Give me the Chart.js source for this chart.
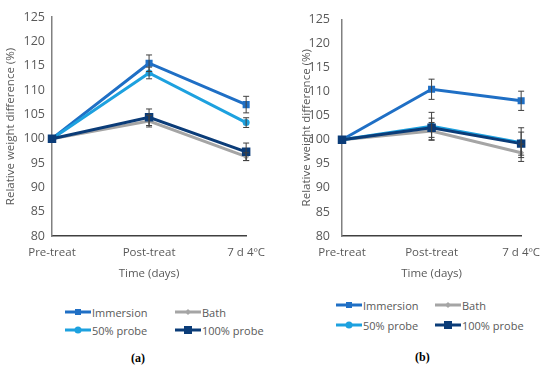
<!DOCTYPE html>
<html>
<head>
<meta charset="utf-8">
<script src="https://cdn.jsdelivr.net/npm/chart.js@4.4.1/dist/chart.umd.min.js"></script>
<style>
  html, body { margin: 0; padding: 0; background: #ffffff; }
  body { width: 550px; height: 367px; position: relative; overflow: hidden; font-family: "Open Sans", sans-serif; }
  .wrap { position: absolute; top: 0; width: 275px; height: 285px; }
  .legend { position: absolute; font-size: 11px; color: #595959; }
  .item { position: absolute; display: flex; align-items: center; white-space: nowrap; height: 16px; }
  .item svg { margin-right: 1px; }
  .cap { position: absolute; font-family: "Liberation Serif", serif; font-weight: bold; font-size: 12px; color: #000; }
</style>
</head>
<body>
<div class="wrap" style="left:0px"><canvas id="ca" width="275" height="285"></canvas></div>
<div class="wrap" style="left:275px"><canvas id="cb" width="275" height="285"></canvas></div>
<div id="legA"></div>
<div id="legB"></div>
<div class="cap" style="left:131px; top:351px;">(a)</div>
<div class="cap" style="left:415px; top:350px;">(b)</div>
<script>
// ---- data ----
const categories = ['Pre-treat', 'Post-treat', '7 d 4ºC'];
const seriesNames = ['Immersion', 'Bath', '50% probe', '100% probe'];
const yTicks = [80, 85, 90, 95, 100, 105, 110, 115, 120, 125];

// panel (a)
const aImmersion = [100, 115.5, 107.0];
const aBath      = [100, 103.6, 96.3];
const aProbe50   = [100, 113.5, 103.3];
const aProbe100  = [100, 104.4, 97.3];
const aErrImmersion = [0, 1.7, 1.7];
const aErrBath      = [0, 1.2, 0.8];
const aErrProbe50   = [0, 1.2, 1.0];
const aErrProbe100  = [0, 1.7, 1.8];

// panel (b)
const bImmersion = [100, 110.5, 108.1];
const bBath      = [100, 101.8, 97.3];
const bProbe50   = [100, 102.8, 99.4];
const bProbe100  = [100, 102.5, 99.2];
const bErrImmersion = [0, 2.1, 2.0];
const bErrBath      = [0, 1.8, 1.8];
const bErrProbe50   = [0, 2.9, 3.1];
const bErrProbe100  = [0, 2.0, 2.4];

// ---- styles ----
const colors = ['#1F6FC5', '#A5A5A5', '#1DA1DF', '#0B3C78'];
const pStyles = ['rect', 'rectRot', 'circle', 'rect'];
const pRadius = [5, 3, 3.5, 6];
const drawOrder = [3, 2, 1, 0];

const errorBars = {
  id: 'errorBars',
  afterDatasetsDraw(chart) {
    const ctx = chart.ctx;
    const y = chart.scales.y;
    ctx.save();
    ctx.strokeStyle = '#404040';
    ctx.lineWidth = 1;
    chart.data.datasets.forEach((ds, i) => {
      const meta = chart.getDatasetMeta(i);
      ds.errors.forEach((e, j) => {
        if (!e) return;
        const px = meta.data[j].x;
        const top = y.getPixelForValue(ds.data[j] + e);
        const bot = y.getPixelForValue(ds.data[j] - e);
        ctx.beginPath();
        ctx.moveTo(px, top); ctx.lineTo(px, bot);
        ctx.moveTo(px - 3, top); ctx.lineTo(px + 3, top);
        ctx.moveTo(px - 3, bot); ctx.lineTo(px + 3, bot);
        ctx.stroke();
      });
    });
    ctx.restore();
  }
};

function makeChart(id, series, errors, axisW, padLeft, padRight, tickPad) {
  const datasets = series.map((d, i) => ({
    label: seriesNames[i],
    data: d,
    errors: errors[i],
    borderColor: colors[i],
    backgroundColor: colors[i],
    borderWidth: 3,
    pointStyle: pStyles[i],
    pointRadius: pRadius[i],
    pointBorderWidth: 0,
    order: drawOrder[i],
    tension: 0
  }));
  return new Chart(document.getElementById(id), {
    type: 'line',
    data: { labels: categories, datasets },
    plugins: [errorBars],
    options: {
      responsive: false,
      animation: false,
      devicePixelRatio: 1,
      layout: { padding: { top: 17, right: padRight, left: padLeft, bottom: 1 } },
      plugins: { legend: { display: false }, tooltip: { enabled: false } },
      scales: {
        x: {
          offset: false,
          afterFit: (s) => { s.height = 48; },
          grid: { display: false, drawTicks: false },
          border: { color: '#404040', width: 1.5 },
          ticks: { color: '#595959', font: { family: 'Open Sans', size: 11.5 }, padding: 10, maxRotation: 0, autoSkip: false },
          title: { display: true, text: 'Time (days)', color: '#595959', font: { family: 'Open Sans', size: 11.5 }, padding: { top: 9, bottom: 3 } }
        },
        y: {
          min: 80, max: 125,
          afterBuildTicks: (s) => { s.ticks = yTicks.map(v => ({ value: v })); },
          afterFit: (s) => { s.width = axisW; },
          grid: { display: false, drawTicks: false },
          border: { color: '#808080', width: 1.5 },
          ticks: { color: '#595959', font: { family: 'Open Sans', size: 12.5 }, padding: tickPad },
          title: { display: true, text: 'Relative weight difference (%)', color: '#595959', font: { family: 'Open Sans', size: 11.5 }, padding: { top: 4, bottom: 4 } }
        }
      }
    }
  });
}

makeChart('ca', [aImmersion, aBath, aProbe50, aProbe100],
  [aErrImmersion, aErrBath, aErrProbe50, aErrProbe100], 52, 0, 23, 7);
makeChart('cb', [bImmersion, bBath, bProbe50, bProbe100],
  [bErrImmersion, bErrBath, bErrProbe50, bErrProbe100], 46, 21, 28, 12);

// ---- HTML legends ----
function icon(i) {
  const c = colors[i];
  let m = '';
  if (pStyles[i] === 'rect') {
    const s = i === 3 ? 8 : 6;
    m = `<rect x="${13 - s/2}" y="${8 - s/2}" width="${s}" height="${s}" fill="${c}"/>`;
  } else if (pStyles[i] === 'circle') {
    m = `<circle cx="13" cy="8" r="3.5" fill="${c}"/>`;
  } else {
    m = `<polygon points="13,5 16,8 13,11 10,8" fill="${c}"/>`;
  }
  return `<svg width="26" height="16"><line x1="0" y1="8" x2="26" y2="8" stroke="${c}" stroke-width="3"/>${m}</svg>`;
}
function legend(id, x1, x2, y1, y2) {
  const pos = [[x1, y1], [x2, y1], [x1, y2], [x2, y2]];
  let html = '';
  seriesNames.forEach((n, i) => {
    html += `<div class="item" style="left:${pos[i][0]}px; top:${pos[i][1] - 8}px">${icon(i)}<span>${n}</span></div>`;
  });
  const el = document.getElementById(id);
  el.className = 'legend';
  el.style.left = '0px'; el.style.top = '0px';
  el.innerHTML = html;
}
legend('legA', 65, 175, 312, 330);
legend('legB', 336, 435, 305, 325);
</script>
</body>
</html>
